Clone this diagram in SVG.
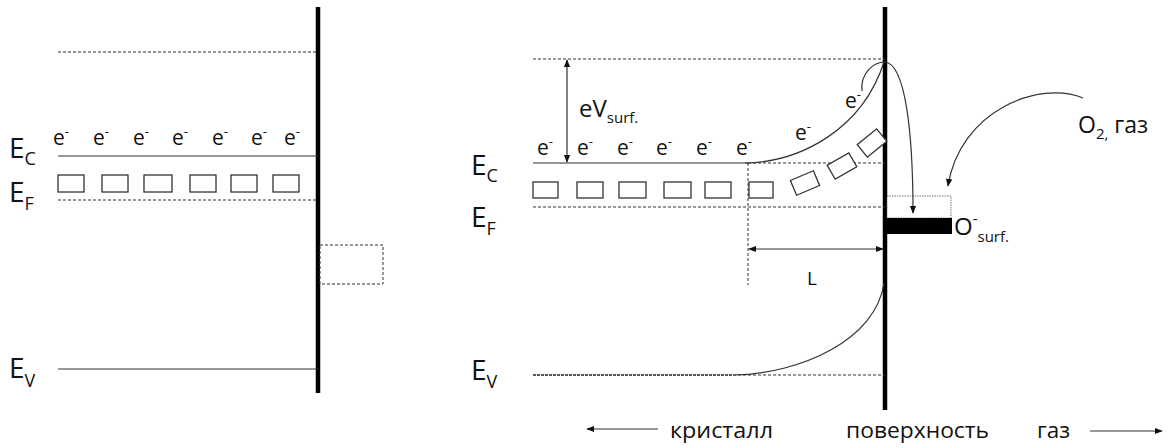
<svg xmlns="http://www.w3.org/2000/svg" width="1169" height="448" viewBox="0 0 1169 448">
<style>
text{font-family:"Open Sans","Noto Sans","Liberation Sans",sans-serif;fill:#111}
.ln{stroke:#333;stroke-width:1.2;fill:none}
.ds{stroke:#333;stroke-width:1;stroke-dasharray:3,2;fill:none}
.wall{stroke:#000;stroke-width:4.5}
.box{fill:#fff;stroke:#333;stroke-width:1.3}
.e{font-size:21px}
.sup{font-size:13px}
.E{font-size:28px}
.sub{font-size:18px}
.arr{stroke:#333;stroke-width:1.2;fill:none}
</style>
<defs>
<marker id="ah" viewBox="0 0 10 10" refX="9" refY="5" markerWidth="8" markerHeight="8" markerUnits="userSpaceOnUse" orient="auto-start-reverse">
<path d="M0,1 L10,5 L0,9 Z" fill="#111"/>
</marker>
</defs>
<rect width="1169" height="448" fill="#fff"/>

<g id="left-panel">
<line class="wall" x1="318" y1="7" x2="318" y2="393"/>
<line class="ds" x1="58" y1="52" x2="318" y2="52"/>
<line class="ln" x1="58" y1="156" x2="318" y2="156"/>
<line class="ds" x1="58" y1="200" x2="318" y2="200"/>
<line class="ln" x1="58" y1="369" x2="318" y2="369" stroke="#555"/>
<rect class="box" x="58" y="175" width="26" height="17"/>
<rect class="box" x="102" y="175" width="26" height="17"/>
<rect class="box" x="144" y="175" width="28" height="17"/>
<rect class="box" x="190" y="175" width="26" height="17"/>
<rect class="box" x="231" y="175" width="26" height="17"/>
<rect class="box" x="273" y="175" width="26" height="17"/>
<rect x="320" y="245" width="63" height="39" fill="#fff" stroke="#333" stroke-width="1" stroke-dasharray="3,2"/>
<g class="e">
<text x="53" y="145">e<tspan class="sup" dy="-9">-</tspan></text>
<text x="93" y="145">e<tspan class="sup" dy="-9">-</tspan></text>
<text x="133" y="145">e<tspan class="sup" dy="-9">-</tspan></text>
<text x="172" y="145">e<tspan class="sup" dy="-9">-</tspan></text>
<text x="212" y="145">e<tspan class="sup" dy="-9">-</tspan></text>
<text x="251" y="145">e<tspan class="sup" dy="-9">-</tspan></text>
<text x="284" y="145">e<tspan class="sup" dy="-9">-</tspan></text>
</g>
<text class="E" x="9" y="158">E<tspan class="sub" dy="7">C</tspan></text>
<text class="E" x="9" y="202">E<tspan class="sub" dy="8">F</tspan></text>
<text class="E" x="9" y="378">E<tspan class="sub" dy="9">V</tspan></text>
</g>

<g id="right-panel">
<line class="wall" x1="885" y1="7" x2="885" y2="410"/>
<line class="ds" x1="533" y1="59" x2="885" y2="59"/>
<line class="ln" x1="533" y1="163" x2="748" y2="163"/>
<line class="ds" x1="748" y1="163" x2="885" y2="163"/>
<line class="ds" x1="533" y1="207" x2="885" y2="207"/>
<line x1="533" y1="375" x2="733" y2="375" stroke="#222" stroke-width="1.3" stroke-dasharray="3,1"/>
<line class="ds" x1="733" y1="375" x2="885" y2="375" stroke="#555"/>
<line class="ds" x1="748" y1="163" x2="748" y2="285"/>
<path class="ln" d="M745,163 C800,162 862,130 884,62"/>
<path class="ln" d="M733,375 C800,374 876,340 884,283"/>
<rect class="box" x="533" y="182" width="25" height="16"/>
<rect class="box" x="577" y="182" width="26" height="16"/>
<rect class="box" x="619" y="182" width="27" height="16"/>
<rect class="box" x="664" y="182" width="27" height="16"/>
<rect class="box" x="705" y="182" width="26" height="16"/>
<rect class="box" x="749" y="182" width="24" height="16"/>
<rect class="box" x="-12.5" y="-8" width="25" height="16" transform="translate(805,183) rotate(-23)"/>
<rect class="box" x="-12.5" y="-8" width="25" height="16" transform="translate(842,166) rotate(-30)"/>
<rect class="box" x="-12.5" y="-8" width="25" height="16" transform="translate(872,143) rotate(-39)"/>
<rect x="887" y="196" width="64" height="22" fill="#fff" stroke="#555" stroke-width="0.8" stroke-dasharray="1.5,1"/>
<rect x="887" y="218" width="65" height="16" fill="#000"/>
<g class="e">
<text x="537" y="155">e<tspan class="sup" dy="-9">-</tspan></text>
<text x="577" y="155">e<tspan class="sup" dy="-9">-</tspan></text>
<text x="617" y="155">e<tspan class="sup" dy="-9">-</tspan></text>
<text x="656" y="155">e<tspan class="sup" dy="-9">-</tspan></text>
<text x="696" y="155">e<tspan class="sup" dy="-9">-</tspan></text>
<text x="736" y="155">e<tspan class="sup" dy="-9">-</tspan></text>
<text x="795" y="140">e<tspan class="sup" dy="-9">-</tspan></text>
<text x="845" y="108">e<tspan class="sup" dy="-9">-</tspan></text>
</g>
<text x="579" y="117" font-size="24">eV<tspan font-size="15" dy="6">surf.</tspan></text>
<text class="E" x="471" y="175">E<tspan class="sub" dy="7">C</tspan></text>
<text class="E" x="471" y="227">E<tspan class="sub" dy="8">F</tspan></text>
<text class="E" x="471" y="380">E<tspan class="sub" dy="8">V</tspan></text>
<text x="807" y="285" font-size="19">L</text>
<text x="954" y="235" font-size="24">O<tspan font-size="15" dy="-11">-</tspan><tspan font-size="15" dy="18">surf.</tspan></text>
<text x="1078" y="133" font-size="23">O<tspan font-size="15" dy="6">2,</tspan><tspan dy="-6"> газ</tspan></text>
<text x="670" y="438" font-size="22" textLength="103" lengthAdjust="spacingAndGlyphs">кристалл</text>
<text x="846" y="438" font-size="22" textLength="143" lengthAdjust="spacingAndGlyphs">поверхность</text>
<text x="1037" y="438" font-size="22" textLength="33" lengthAdjust="spacingAndGlyphs">газ</text>
</g>

<g id="connectors">
<line class="arr" x1="567" y1="60" x2="567" y2="162" marker-start="url(#ah)" marker-end="url(#ah)"/>
<line class="arr" x1="749" y1="249" x2="883" y2="249" marker-start="url(#ah)" marker-end="url(#ah)"/>
<path class="arr" d="M862,91 C860,74 873,62 885,62 C905,64 913,130 913,213" marker-end="url(#ah)"/>
<path class="arr" d="M1083,98 C1040,80 960,110 948,186" marker-end="url(#ah)"/>
<line class="arr" x1="658" y1="429" x2="587" y2="429" marker-end="url(#ah)"/>
<line class="arr" x1="1090" y1="431" x2="1162" y2="431" marker-end="url(#ah)"/>
</g>
</svg>
